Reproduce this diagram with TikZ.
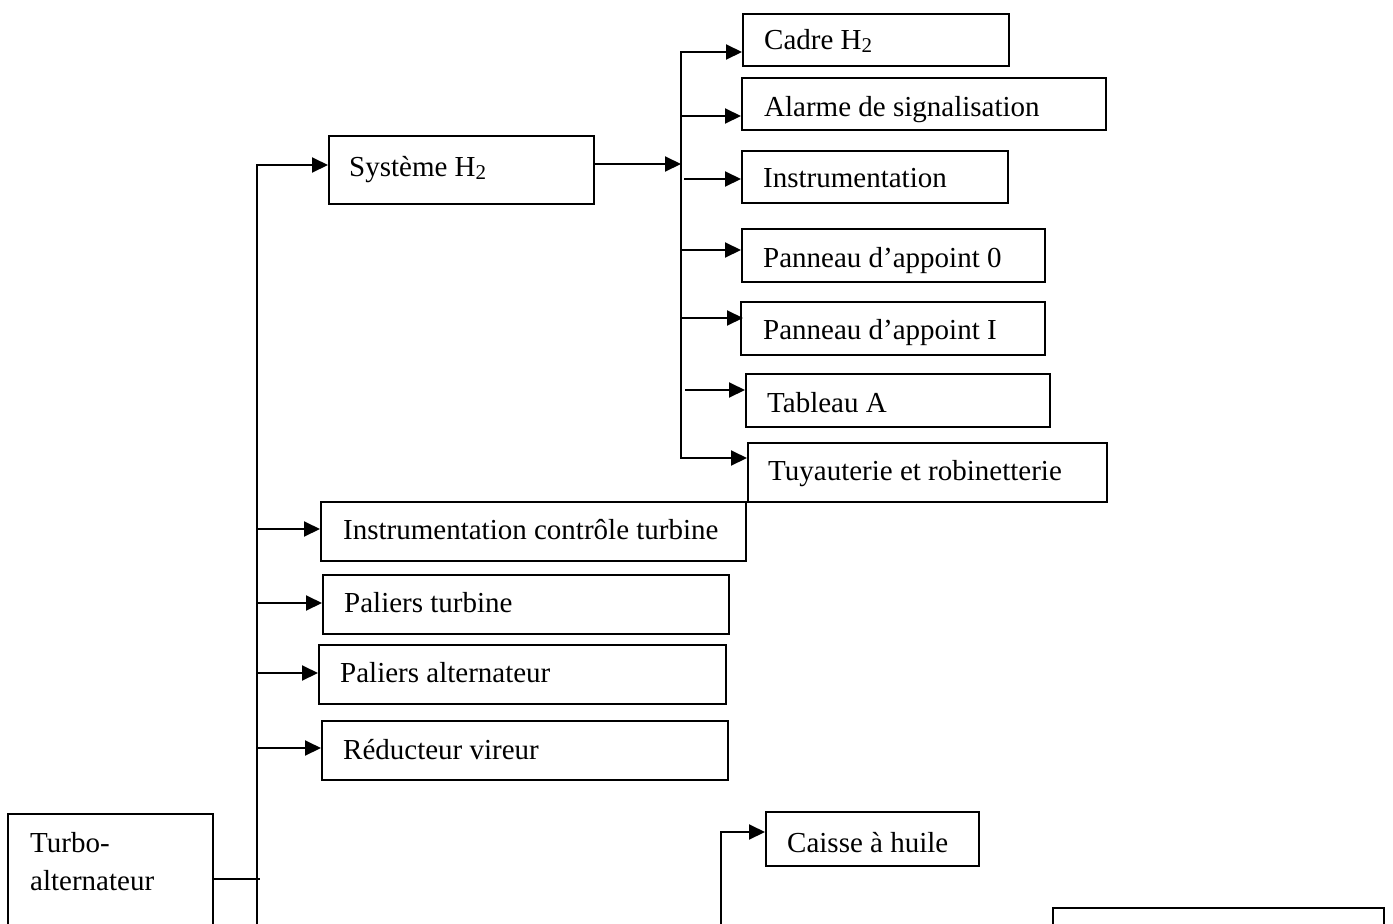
\documentclass[tikz,border=0pt]{standalone}
\usepackage{fontspec}
\setmainfont{Liberation Serif}
\usetikzlibrary{arrows.meta,fit,calc}

\tikzset{
  frame/.style={draw, line width=2pt, inner sep=0pt},
  lbl/.style={inner sep=0pt, anchor=base west, font=\fontsize{29}{38}\selectfont},
  ln/.style={line width=2pt},
  arr/.style={ln, -{Triangle[length=16pt,width=15pt]}},
  arrboth/.style={ln, {Triangle[length=16pt,width=15pt]}-{Triangle[length=16pt,width=15pt]}},
}

% lowered small index, as in H2
\newcommand\idx[1]{\raisebox{-3.5pt}{\fontsize{21}{21}\selectfont #1}}

% #1 name, #2-#5 corners, #6 text x, #7 text baseline, #8 text
\newcommand\unitbox[8]{%
  \node[frame, fit={(#2,#3) (#4,#5)}] (#1) {};
  \node[lbl] (#1-t) at (#6,#7) {#8};
}

\begin{document}
\begin{tikzpicture}[x=1pt,y=-1pt]
\useasboundingbox[fill=white] (0,0) rectangle (1393,924);
\clip (0,0) rectangle (1393,924);

% root
\node[frame, fit={(8,814) (213,944)}] (turbo) {};
\node[lbl, anchor=north west, align=left] (turbo-t) at (30,832) {Turbo-\\alternateur};

% first level
\unitbox{sys}{329}{136}{594}{204}{349}{176}{Système H\idx{2}}
\unitbox{ict}{321}{502}{746}{561}{343}{539}{Instrumentation contrôle turbine}
\unitbox{ptb}{323}{575}{729}{634}{344}{612}{Paliers turbine}
\unitbox{pal}{319}{645}{726}{704}{340}{682}{Paliers alternateur}
\unitbox{red}{322}{721}{728}{780}{343}{759}{Réducteur vireur}

% hydrogen system
\unitbox{cad}{743}{14}{1009}{66}{764}{49}{Cadre H\idx{2}}
\unitbox{ala}{742}{78}{1106}{130}{764}{116}{Alarme de signalisation}
\unitbox{ins}{742}{151}{1008}{203}{763}{187}{Instrumentation}
\unitbox{pa0}{742}{229}{1045}{282}{763}{267}{Panneau d’appoint 0}
\unitbox{pa1}{741}{302}{1045}{355}{763}{339}{Panneau d’appoint I}
\unitbox{tab}{746}{374}{1050}{427}{767}{412}{Tableau A}
\unitbox{tuy}{748}{443}{1107}{502}{768}{480}{Tuyauterie et robinetterie}

% oil system
\unitbox{cai}{766}{812}{979}{866}{787}{852}{Caisse à huile}
\node[frame, fit={(1053,908) (1384,960)}] (br) {};

% main trunk
\coordinate (mtop) at (257,165);
\coordinate (mbot) at (257,940);
\coordinate (tj) at (260,879);
\draw[ln] (turbo.east) -- (tj);
\draw[arr] (mbot) -- (mtop) -- (mtop -| sys.west);
\draw[arr] (mtop |- 0,529) -- (ict.west |- 0,529);
\draw[arr] (mtop |- 0,603) -- (ptb.west |- 0,603);
\draw[arr] (mtop |- 0,673) -- (pal.west |- 0,673);
\draw[arr] (mtop |- 0,748) -- (red.west |- 0,748);

% hydrogen trunk
\coordinate (stop) at (681,52);
\coordinate (sbot) at (681,458);
\draw[arr] (sys.east |- 0,164) -- (stop |- 0,164);
\draw[arrboth] (cad.west |- stop) -- (stop) -- (sbot) -- (sbot -| tuy.west);
\draw[arr] (stop |- 0,116) -- (ala.west |- 0,116);
\draw[arr] ($(stop |- 0,179)+(3,0)$) -- (ins.west |- 0,179);
\draw[arr] (stop |- 0,250) -- (pa0.west |- 0,250);
\draw[arr] (stop |- 0,318) -- ($(pa1.west |- 0,318)+(3,0)$);
\draw[arr] ($(stop |- 0,390)+(4,0)$) -- (tab.west |- 0,390);

% oil trunk
\coordinate (ctop) at (721,832);
\coordinate (cbot) at (721,940);
\draw[arr] (cbot) -- (ctop) -- (ctop -| cai.west);
\end{tikzpicture}
\end{document}
